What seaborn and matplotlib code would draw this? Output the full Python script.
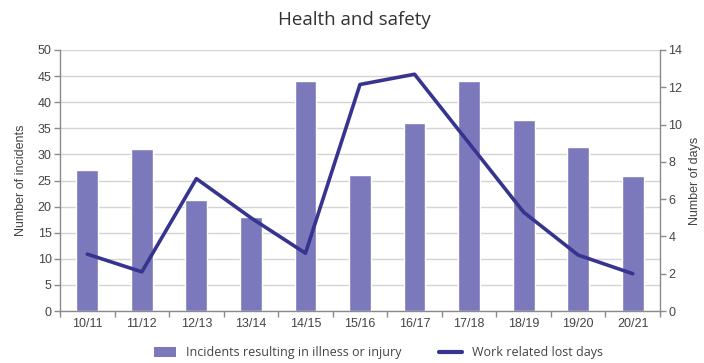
import matplotlib
matplotlib.use("Agg")
import matplotlib.pyplot as plt
from matplotlib.patches import Patch
from matplotlib.lines import Line2D
from matplotlib.ticker import MultipleLocator, FixedLocator
import seaborn as sns
import pandas as pd

years = ["10/11", "11/12", "12/13", "13/14", "14/15", "15/16",
         "16/17", "17/18", "18/19", "19/20", "20/21"]
incidents = [27, 31, 21.2, 18, 44, 26, 36, 44, 36.5, 31.5, 25.8]
lost_days = [3.05, 2.1, 7.1, 5.0, 3.1, 12.15, 12.7, 9.0, 5.3, 3.0, 2.0]

bar_color = "#7b78bb"
line_color = "#37348f"
axis_color = "#8a8a8a"
text_color = "#444444"
narrow = ["Liberation Sans", "DejaVu Sans"]
body = ["Open Sans", "DejaVu Sans"]

sns.set_theme(style="white")
plt.rcParams["font.family"] = narrow

df = pd.DataFrame({"year": years, "incidents": incidents, "days": lost_days})

fig = plt.figure(figsize=(7.04, 3.63), dpi=100)
ax = fig.add_axes([60 / 704, 52 / 363, 600 / 704, 261 / 363])

sns.barplot(data=df, x="year", y="incidents", color=bar_color, width=0.4,
            saturation=1, ax=ax, zorder=2)
ax.set_xlim(-0.5, len(years) - 0.5)
ax.set_ylim(0, 50)
ax.yaxis.set_major_locator(MultipleLocator(5))
ax.grid(axis="y", color="#d4d4d4", linewidth=1, zorder=0)
ax.set_axisbelow(True)

ax2 = ax.twinx()
sns.lineplot(data=df, x="year", y="days", color=line_color, linewidth=2.6,
             ax=ax2, zorder=3)
ax2.set_ylim(0, 14)
ax2.yaxis.set_major_locator(MultipleLocator(2))
ax2.set_xlim(-0.5, len(years) - 0.5)

for a in (ax, ax2):
    a.spines["top"].set_visible(False)
    for side in ("left", "right", "bottom"):
        a.spines[side].set_color(axis_color)
        a.spines[side].set_linewidth(1)
ax.spines["right"].set_visible(False)
ax2.spines["left"].set_visible(False)
ax2.spines["bottom"].set_visible(False)

ax.tick_params(axis="y", left=True, length=4, width=1, color=axis_color,
               labelsize=9, labelcolor=text_color, pad=2)
ax2.tick_params(axis="y", right=True, length=4, width=1, color=axis_color,
                labelsize=9, labelcolor=text_color, pad=2)
ax.xaxis.set_minor_locator(FixedLocator([i + 0.5 for i in range(-1, len(years))]))
ax.tick_params(axis="x", which="major", length=0, labelsize=9,
               labelcolor=text_color, pad=5)
ax.tick_params(axis="x", which="minor", bottom=True, length=4, width=1,
               color=axis_color)

ax.set_xlabel("")
ax.set_ylabel("Number of incidents", fontsize=9, color=text_color, labelpad=8)
ax2.set_ylabel("Number of days", fontsize=9, color=text_color, labelpad=5)

fig.text(0.503, 0.945, "Health and safety", ha="center", va="center",
         fontsize=13.5, color="#333333", family=body)

handles = [Patch(facecolor=bar_color, edgecolor="none"),
           Line2D([0], [0], color=line_color, linewidth=3)]
labels = ["Incidents resulting in illness or injury", "Work related lost days"]
fig.legend(handles, labels, loc="center", bbox_to_anchor=(0.537, 0.028),
           ncol=2, frameon=False, handlelength=1.8, handleheight=0.8,
           columnspacing=3.0, handletextpad=0.8,
           prop={"family": body, "size": 9}, labelcolor=text_color)

fig.savefig("out.png", dpi=100, facecolor="white")
